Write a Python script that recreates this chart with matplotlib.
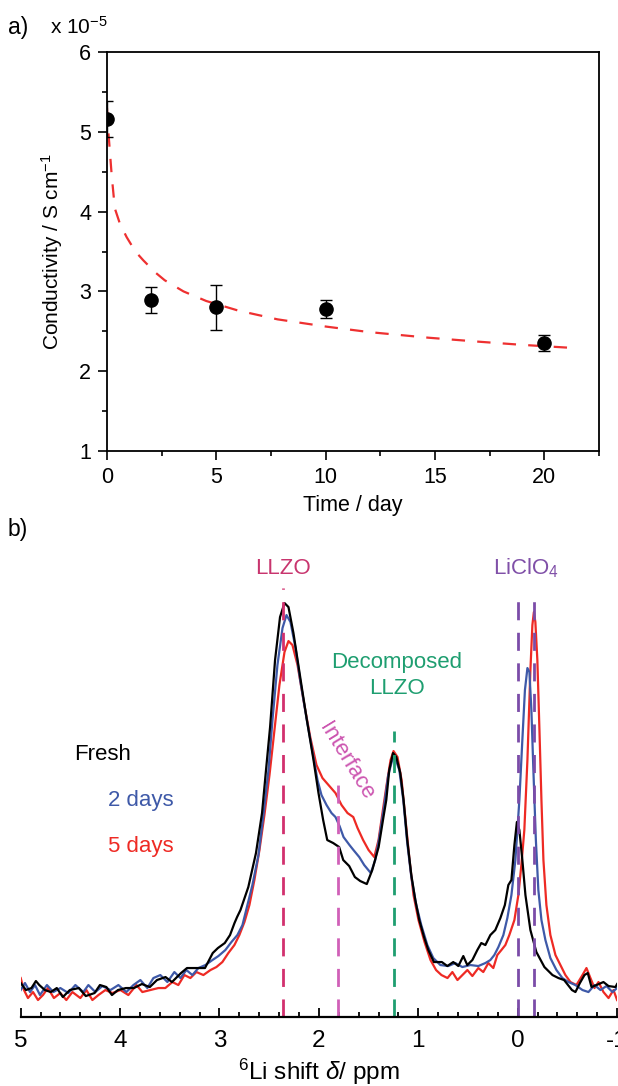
import matplotlib
matplotlib.use("Agg")
import matplotlib.pyplot as plt
from matplotlib.ticker import MultipleLocator

plt.rcParams['font.family'] = ['Liberation Sans', 'DejaVu Sans']
plt.rcParams['mathtext.fontset'] = 'custom'
plt.rcParams['mathtext.rm'] = 'Liberation Sans'
plt.rcParams['mathtext.it'] = 'Liberation Sans:italic'
plt.rcParams['axes.unicode_minus'] = False

# ---------------- Panel a data ----------------
time_days = [0, 2, 5, 10, 20]
conductivity = [5.16, 2.89, 2.80, 2.78, 2.35]
conductivity_err = [0.23, 0.16, 0.28, 0.11, 0.10]

fit_t = [0, 0.05, 0.1, 0.22, 0.36, 0.59, 0.9, 1.3, 1.66, 2.2, 2.64, 3.5, 4.54, 6, 7.8, 10, 12, 14.7, 17, 19, 21.4]
fit_y = [5.30, 5.05, 4.87, 4.44, 4.04, 3.85, 3.68, 3.50, 3.39, 3.24, 3.14, 3.00, 2.88, 2.76, 2.65, 2.56, 2.49, 2.42, 2.37, 2.33, 2.29]

# ---------------- Panel b data ----------------
fresh_ppm = [5.00, 4.947, 4.892, 4.847, 4.813, 4.757, 4.697, 4.637, 4.576, 4.506, 4.415, 4.345, 4.257, 4.203,
             4.138, 4.082, 4.022, 3.942, 3.861, 3.781, 3.701, 3.629, 3.543, 3.478, 3.387, 3.327, 3.267, 3.146,
             3.068, 3.016, 2.947, 2.894, 2.849, 2.823, 2.789, 2.710, 2.633, 2.572, 2.532, 2.491, 2.441, 2.391,
             2.346, 2.306, 2.256, 2.188, 2.121, 2.054, 2.004, 1.957, 1.916, 1.856, 1.796, 1.755, 1.695, 1.638,
             1.584, 1.518, 1.463, 1.399, 1.352, 1.322, 1.292, 1.254, 1.221, 1.181, 1.148, 1.111, 1.070, 1.030,
             0.990, 0.942, 0.899, 0.843, 0.763, 0.708, 0.648, 0.597, 0.547, 0.507, 0.456, 0.406, 0.366, 0.325,
             0.275, 0.225, 0.174, 0.129, 0.094, 0.063, 0.033, 0.008, -0.017, -0.047, -0.078, -0.128, -0.188,
             -0.269, -0.350, -0.410, -0.467, -0.546, -0.581, -0.626, -0.672, -0.705, -0.743, -0.793, -0.863,
             -0.914, -0.984, -1.0]
fresh_int = [0.34, 0.27, 0.29, 0.36, 0.32, 0.27, 0.25, 0.29, 0.20, 0.27, 0.29, 0.21, 0.24, 0.32,
             0.30, 0.22, 0.27, 0.29, 0.29, 0.33, 0.30, 0.37, 0.40, 0.35, 0.44, 0.49, 0.49, 0.49,
             0.64, 0.69, 0.74, 0.82, 0.94, 1.00, 1.07, 1.30, 1.64, 2.04, 2.47, 2.90, 3.57, 4.00,
             4.14, 4.10, 3.84, 3.40, 2.97, 2.57, 2.24, 1.97, 1.77, 1.74, 1.70, 1.57, 1.51, 1.40,
             1.36, 1.33, 1.47, 1.70, 1.99, 2.17, 2.47, 2.64, 2.60, 2.44, 2.17, 1.77, 1.42, 1.17,
             0.97, 0.80, 0.67, 0.55, 0.55, 0.51, 0.55, 0.51, 0.61, 0.52, 0.57, 0.67, 0.74, 0.72,
             0.82, 0.87, 0.99, 1.12, 1.32, 1.37, 1.72, 1.95, 1.87, 1.57, 1.22, 0.87, 0.65,
             0.50, 0.42, 0.39, 0.37, 0.27, 0.25, 0.34, 0.42, 0.44, 0.30, 0.32, 0.35,
             0.31, 0.30, 0.33]

days2_ppm = [5.00, 4.957, 4.906, 4.856, 4.806, 4.736, 4.671, 4.601, 4.521, 4.450, 4.370, 4.319, 4.249, 4.178,
             4.097, 4.017, 3.937, 3.866, 3.796, 3.726, 3.665, 3.595, 3.524, 3.454, 3.393, 3.333, 3.273, 3.212,
             3.142, 3.071, 3.011, 2.941, 2.880, 2.820, 2.769, 2.719, 2.669, 2.608, 2.558, 2.507, 2.467, 2.417,
             2.366, 2.326, 2.286, 2.235, 2.185, 2.125, 2.064, 2.014, 1.974, 1.923, 1.873, 1.833, 1.792, 1.752,
             1.692, 1.652, 1.594, 1.544, 1.478, 1.433, 1.393, 1.342, 1.302, 1.262, 1.232, 1.191, 1.151, 1.111,
             1.070, 1.020, 0.970, 0.909, 0.849, 0.778, 0.698, 0.627, 0.557, 0.476, 0.396, 0.325, 0.275, 0.235,
             0.194, 0.144, 0.104, 0.063, 0.023, -0.017, -0.047, -0.073, -0.098, -0.118, -0.138, -0.158, -0.183,
             -0.208, -0.239, -0.279, -0.329, -0.390, -0.450, -0.511, -0.581, -0.652, -0.712, -0.773, -0.833,
             -0.893, -0.954, -1.0]
days2_int = [0.27, 0.34, 0.25, 0.32, 0.22, 0.32, 0.25, 0.29, 0.24, 0.32, 0.25, 0.32, 0.25, 0.31,
             0.27, 0.32, 0.25, 0.32, 0.37, 0.29, 0.39, 0.42, 0.35, 0.45, 0.39, 0.47, 0.42, 0.49,
             0.52, 0.57, 0.61, 0.67, 0.75, 0.82, 0.92, 1.12, 1.32, 1.62, 2.02, 2.47, 2.97, 3.52,
             3.89, 4.02, 3.95, 3.69, 3.35, 2.99, 2.65, 2.37, 2.22, 2.12, 2.04, 2.00, 1.91, 1.80,
             1.72, 1.67, 1.60, 1.52, 1.44, 1.57, 1.79, 2.12, 2.42, 2.57, 2.59, 2.47, 2.17, 1.74,
             1.40, 1.12, 0.92, 0.72, 0.59, 0.52, 0.51, 0.54, 0.50, 0.52, 0.51, 0.54, 0.57, 0.62,
             0.70, 0.82, 0.99, 1.22, 1.57, 2.17, 2.77, 3.27, 3.49, 3.45, 3.07, 2.47, 1.77,
             1.27, 0.97, 0.77, 0.59, 0.47, 0.39, 0.35, 0.32, 0.27, 0.25, 0.32, 0.27,
             0.31, 0.25, 0.29]

days5_ppm = [5.00, 4.967, 4.927, 4.876, 4.826, 4.776, 4.726, 4.666, 4.601, 4.541, 4.480, 4.400, 4.339, 4.279,
             4.218, 4.148, 4.077, 3.997, 3.917, 3.836, 3.776, 3.696, 3.615, 3.545, 3.474, 3.414, 3.353, 3.293,
             3.232, 3.162, 3.091, 3.031, 2.971, 2.911, 2.850, 2.800, 2.749, 2.699, 2.649, 2.598, 2.548, 2.497,
             2.447, 2.397, 2.346, 2.306, 2.266, 2.215, 2.155, 2.085, 2.024, 1.964, 1.903, 1.833, 1.772, 1.712,
             1.654, 1.611, 1.555, 1.500, 1.443, 1.400, 1.359, 1.319, 1.279, 1.249, 1.209, 1.168, 1.128, 1.088,
             1.048, 0.998, 0.937, 0.877, 0.821, 0.767, 0.706, 0.657, 0.606, 0.556, 0.506, 0.456, 0.396, 0.346,
             0.295, 0.245, 0.205, 0.164, 0.124, 0.084, 0.033, -0.007, -0.037, -0.067, -0.098, -0.128, -0.148,
             -0.163, -0.178, -0.198, -0.219, -0.239, -0.259, -0.289, -0.329, -0.380, -0.430, -0.480, -0.531,
             -0.591, -0.652, -0.692, -0.732, -0.773, -0.813, -0.863, -0.914, -0.964, -1.0]
days5_int = [0.39, 0.27, 0.19, 0.25, 0.17, 0.22, 0.29, 0.19, 0.24, 0.17, 0.25, 0.19, 0.27, 0.17,
             0.22, 0.27, 0.24, 0.27, 0.22, 0.32, 0.25, 0.27, 0.29, 0.29, 0.35, 0.32, 0.42, 0.39,
             0.45, 0.42, 0.47, 0.50, 0.55, 0.64, 0.72, 0.82, 0.95, 1.12, 1.37, 1.67, 2.02, 2.42,
             2.87, 3.32, 3.65, 3.76, 3.72, 3.52, 3.17, 2.79, 2.52, 2.39, 2.32, 2.24, 2.12, 2.04,
             2.00, 1.89, 1.77, 1.67, 1.60, 1.77, 2.05, 2.32, 2.57, 2.66, 2.60, 2.37, 1.97, 1.57,
             1.22, 0.97, 0.75, 0.57, 0.47, 0.42, 0.39, 0.45, 0.37, 0.42, 0.47, 0.41, 0.49, 0.45,
             0.54, 0.49, 0.62, 0.67, 0.72, 0.82, 0.97, 1.22, 1.52, 1.87, 2.57, 3.47, 3.92,
             4.05, 3.95, 3.57, 2.87, 2.17, 1.57, 1.12, 0.82, 0.62, 0.52, 0.42, 0.35,
             0.32, 0.42, 0.49, 0.39, 0.29, 0.35, 0.25, 0.19, 0.27, 0.17]

# reference lines
ref_names = ['LLZO', 'Interface', 'Decomposed LLZO', 'LiClO4 a', 'LiClO4 b']
ref_ppm = [2.36, 1.805, 1.248, 0.00, -0.16]
ref_top = [4.29, 2.42, 2.86, 4.27, 4.27]
ref_colors = ['#D2306E', '#D060B8', '#1E9E70', '#7B4CA8', '#7B4CA8']

C_BLACK = '#000000'
C_BLUE = '#3E59A8'
C_RED = '#EE2A24'

fig = plt.figure(figsize=(6.18, 10.86), dpi=100)

# ---------------- Panel a ----------------
axa = fig.add_axes([0.1731, 0.5847, 0.7961, 0.3674])
axa.plot(fit_t, fit_y, color='#EE3030', lw=1.6, dashes=(6, 5.5), zorder=2)
axa.errorbar(time_days, conductivity, yerr=conductivity_err, fmt='o', color='black',
             ms=9.5, ecolor='black', elinewidth=1.0, capsize=4, capthick=1.0, zorder=3)
axa.set_xlim(0, 22.5)
axa.set_ylim(1, 6)
axa.xaxis.set_major_locator(MultipleLocator(5))
axa.xaxis.set_minor_locator(MultipleLocator(2.5))
axa.yaxis.set_major_locator(MultipleLocator(1))
axa.yaxis.set_minor_locator(MultipleLocator(0.5))
axa.tick_params(which='both', direction='out', labelsize=15.5, width=1.2,
                top=False, right=False)
axa.tick_params(which='major', length=6.5, pad=5)
axa.tick_params(which='minor', length=3.6)
for s in axa.spines.values():
    s.set_linewidth(1.3)
axa.set_xlabel('Time / day', fontsize=15.5, labelpad=5)
axa.set_ylabel(r'Conductivity / S cm$^{-1}$', fontsize=15, labelpad=10)

fig.text(0.013, 0.975, 'a)', fontsize=16.5, va='center', ha='left')
fig.text(0.081, 0.975, r'x 10$^{-5}$', fontsize=15, va='center', ha='left')
fig.text(0.013, 0.512, 'b)', fontsize=16.5, va='center', ha='left')

# ---------------- Panel b ----------------
axb = fig.add_axes([0.0335, 0.0635, 0.965, 0.4208])
axb.plot(fresh_ppm, fresh_int, color=C_BLACK, lw=1.6, zorder=4)
axb.plot(days2_ppm, days2_int, color=C_BLUE, lw=1.6, zorder=3)
axb.plot(days5_ppm, days5_int, color=C_RED, lw=1.6, zorder=2)
for p, top, c in zip(ref_ppm, ref_top, ref_colors):
    axb.plot([p, p], [0, top], color=c, lw=2.0, dashes=(6.5, 4.5), zorder=5)

axb.set_xlim(5, -1)
axb.set_ylim(0, 4.57)
axb.xaxis.set_major_locator(MultipleLocator(1))
axb.xaxis.set_minor_locator(MultipleLocator(0.2))
axb.tick_params(which='both', direction='in', labelsize=17.5, width=1.3,
                left=False, labelleft=False)
axb.tick_params(which='major', length=6.2, pad=9)
axb.tick_params(which='minor', length=3.6)
for side in ['top', 'right', 'left']:
    axb.spines[side].set_visible(False)
axb.spines['bottom'].set_linewidth(1.6)
axb.spines['bottom'].set_zorder(6)
axb.set_xlabel(r'$^{6}$Li shift $\delta$/ ppm', fontsize=17.5, labelpad=4)

axb.text(2.36, 4.49, 'LLZO', color='#C8356E', fontsize=16, ha='center', va='center')
axb.text(-0.08, 4.49, r'LiClO$_4$', color='#8050A8', fontsize=16, ha='center', va='center')
axb.text(1.215, 3.55, 'Decomposed', color='#1E9E70', fontsize=16, ha='center', va='center')
axb.text(1.215, 3.29, 'LLZO', color='#1E9E70', fontsize=16, ha='center', va='center')
axb.text(1.72, 2.555, 'Interface', color='#CC55B0', fontsize=16, ha='center', va='center',
         rotation=-58.6, rotation_mode='anchor')
axb.text(4.18, 2.63, 'Fresh', color=C_BLACK, fontsize=16, ha='center', va='center')
axb.text(3.79, 2.17, '2 days', color=C_BLUE, fontsize=16, ha='center', va='center')
axb.text(3.79, 1.71, '5 days', color=C_RED, fontsize=16, ha='center', va='center')

fig.savefig('out.png', dpi=100)
